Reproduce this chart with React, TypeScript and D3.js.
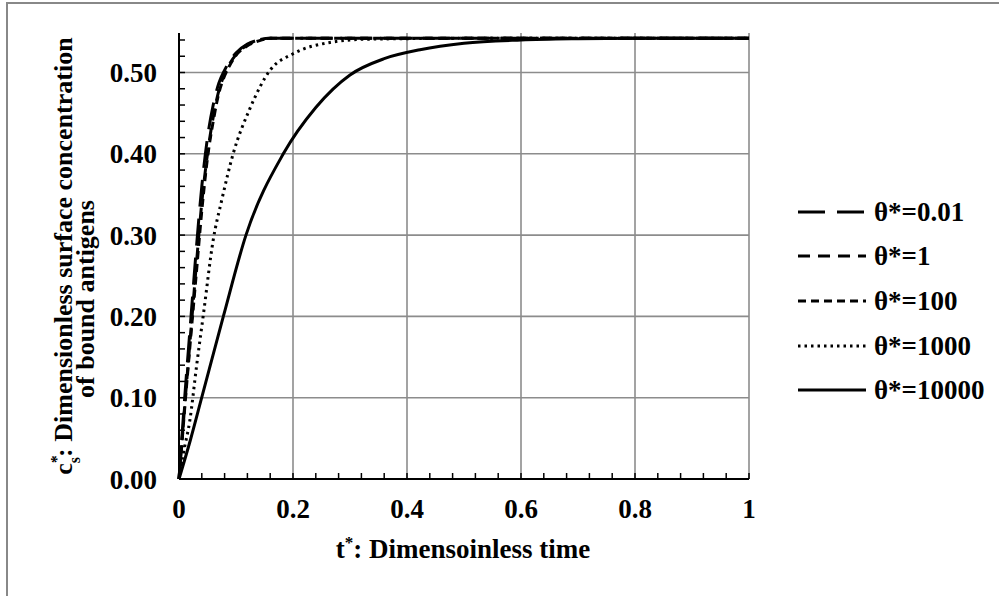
import React from "react";
import * as d3 from "d3";

// ---- data ----
const xTicks = [0, 0.2, 0.4, 0.6, 0.8, 1];
const xTickLabels = ["0", "0.2", "0.4", "0.6", "0.8", "1"];
const yTicks = [0, 0.1, 0.2, 0.3, 0.4, 0.5];
const yTickLabels = ["0.00", "0.10", "0.20", "0.30", "0.40", "0.50"];

const legendLabels = ["θ*=0.01", "θ*=1", "θ*=100", "θ*=1000", "θ*=10000"];

const theta001: [number, number][] = [
  [0, 0], [0.005, 0.05], [0.01, 0.1], [0.02, 0.19], [0.03, 0.28], [0.04, 0.36],
  [0.05, 0.42], [0.06, 0.46], [0.07, 0.487], [0.08, 0.503], [0.09, 0.515],
  [0.1, 0.524], [0.12, 0.535], [0.14, 0.54], [0.16, 0.542], [0.3, 0.542], [1, 0.542],
];
const theta1: [number, number][] = [
  [0, 0], [0.005, 0.045], [0.01, 0.09], [0.02, 0.175], [0.03, 0.26], [0.04, 0.34],
  [0.05, 0.4], [0.06, 0.445], [0.07, 0.478], [0.08, 0.498], [0.09, 0.512],
  [0.1, 0.522], [0.12, 0.534], [0.14, 0.54], [0.16, 0.542], [0.3, 0.542], [1, 0.542],
];
const theta100: [number, number][] = [
  [0, 0], [0.005, 0.043], [0.01, 0.087], [0.02, 0.17], [0.03, 0.25], [0.04, 0.33],
  [0.05, 0.395], [0.06, 0.44], [0.07, 0.475], [0.08, 0.496], [0.09, 0.51],
  [0.1, 0.521], [0.12, 0.533], [0.14, 0.539], [0.16, 0.542], [0.3, 0.542], [1, 0.542],
];
const theta1000: [number, number][] = [
  [0, 0], [0.0076, 0.0315], [0.019, 0.072], [0.031, 0.14], [0.043, 0.2035],
  [0.06, 0.294], [0.075, 0.343], [0.095, 0.4], [0.124, 0.455], [0.16, 0.503],
  [0.2, 0.523], [0.265, 0.537], [0.33, 0.541], [0.5, 0.542], [1, 0.542],
];
const theta10000: [number, number][] = [
  [0, 0], [0.02, 0.048], [0.0398, 0.1], [0.0778, 0.2], [0.1175, 0.3], [0.183, 0.4],
  [0.24, 0.457], [0.3, 0.497], [0.36, 0.517], [0.4228, 0.528], [0.5, 0.536],
  [0.6, 0.54], [0.7, 0.5415], [0.8, 0.542], [1, 0.542],
];

const seriesData = [theta001, theta1, theta100, theta1000, theta10000];
const dashes = ["27 12", "12 8", "8 5", "2.5 4", "none"];

const FONT = "'Liberation Serif', 'Times New Roman', serif";

export default function App() {
  const x = d3.scaleLinear().domain([0, 1]).range([179, 749]);
  const y = d3.scaleLinear().domain([0, 0.5486]).range([479, 33]);
  const line = d3
    .line<[number, number]>()
    .x((d) => x(d[0]))
    .y((d) => y(d[1]))
    .curve(d3.curveMonotoneX);

  const yMinor = d3.range(0, 28).map((i) => i * 0.02);
  const xMinor = d3.range(0, 26).map((i) => i * 0.04);

  const legendY = [212, 256, 301, 346, 390];

  return (
    <svg
      width={999}
      height={596}
      style={{ position: "absolute", left: 0, top: 0, background: "#fff" }}
      fontFamily={FONT}
      fontWeight="bold"
    >
      <rect x={0} y={0} width={999} height={596} fill="#fff" />
      <rect x={7} y={3} width={1010} height={620} fill="none" stroke="#888" strokeWidth={2} />

      {/* grid */}
      {yTicks.slice(1).map((v) => (
        <line key={"gy" + v} x1={x(0)} x2={x(1)} y1={y(v)} y2={y(v)} stroke="#8c8c8c" strokeWidth={1.6} />
      ))}
      {xTicks.slice(1).map((v) => (
        <line key={"gx" + v} x1={x(v)} x2={x(v)} y1={y(0)} y2={y(0.5486)} stroke="#8c8c8c" strokeWidth={1.6} />
      ))}

      {/* axes */}
      <line x1={x(0)} x2={x(0)} y1={y(0)} y2={y(0.5486)} stroke="#000" strokeWidth={2} />
      <line x1={x(0)} x2={x(1)} y1={y(0)} y2={y(0)} stroke="#000" strokeWidth={2} />
      {yMinor.map((v) => (
        <line key={"ty" + v} x1={x(0)} x2={x(0) + 6} y1={y(v)} y2={y(v)} stroke="#000" strokeWidth={1.5} />
      ))}
      {xMinor.map((v) => (
        <line key={"tx" + v} x1={x(v)} x2={x(v)} y1={y(0)} y2={y(0) - 6} stroke="#000" strokeWidth={1.5} />
      ))}

      {/* tick labels */}
      {yTicks.map((v, i) => (
        <text key={"ly" + v} x={157} y={y(v) + 9.5} textAnchor="end" fontSize={27}>
          {yTickLabels[i]}
        </text>
      ))}
      {xTicks.map((v, i) => (
        <text key={"lx" + v} x={x(v)} y={518} textAnchor="middle" fontSize={27}>
          {xTickLabels[i]}
        </text>
      ))}

      {/* series */}
      {seriesData
        .map((d, i) => (
          <path
            key={"s" + i}
            d={line(d) || ""}
            fill="none"
            stroke="#000"
            strokeWidth={3}
            strokeDasharray={dashes[i]}
          />
        ))
        .reverse()}

      {/* legend */}
      {legendLabels.map((lab, i) => (
        <g key={"lg" + i}>
          <line
            x1={798}
            x2={866}
            y1={legendY[i]}
            y2={legendY[i]}
            stroke="#000"
            strokeWidth={3}
            strokeDasharray={dashes[i]}
          />
          <text x={874} y={legendY[i] + 9} fontSize={27}>
            {lab}
          </text>
        </g>
      ))}

      {/* x title */}
      <text x={463} y={558} textAnchor="middle" fontSize={27}>
        t<tspan fontSize={17} dy={-10}>*</tspan>
        <tspan dy={10}>: Dimensoinless time</tspan>
      </text>

      {/* y title */}
      <text transform={`translate(72,256) rotate(-90)`} textAnchor="middle" fontSize={26}>
        c<tspan fontSize={16} dy={-10}>*</tspan>
        <tspan fontSize={16} dx={-8} dy={18}>s</tspan>
        <tspan dy={-8}>: Dimensionless surface concentration</tspan>
      </text>
      <text transform={`translate(94,299) rotate(-90)`} textAnchor="middle" fontSize={26}>
        of bound antigens
      </text>
    </svg>
  );
}
